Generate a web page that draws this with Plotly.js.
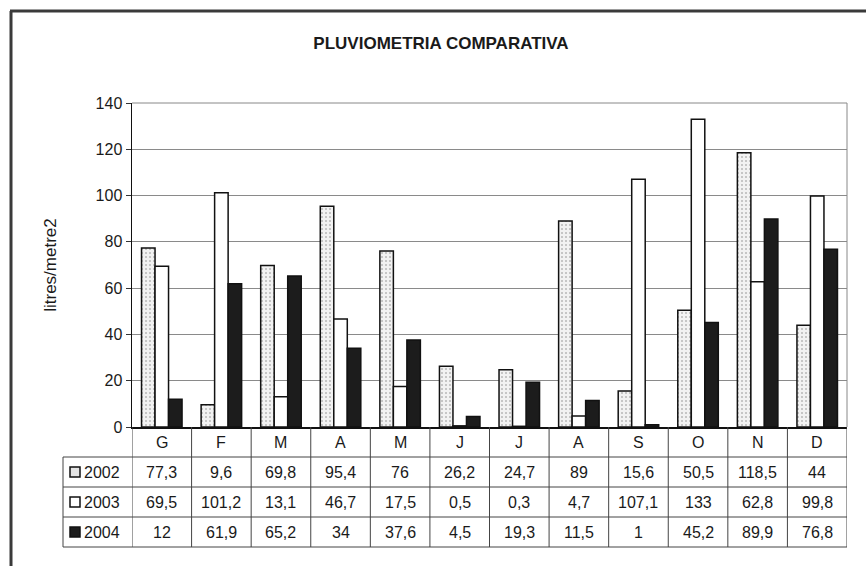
<!DOCTYPE html>
<html><head><meta charset="utf-8">
<script src="https://cdn.plot.ly/plotly-3.0.1.min.js"></script>
<style>html,body{margin:0;padding:0;background:#fff}#chart{width:866px;height:566px}</style>
</head><body><div id="chart"></div>
<script>
const months = ['G','F','M','A','M','J','J','A','S','O','N','D'];
const years = ['2002','2003','2004'];
const rain2002 = [77.3,9.6,69.8,95.4,76,26.2,24.7,89,15.6,50.5,118.5,44];
const rain2003 = [69.5,101.2,13.1,46.7,17.5,0.5,0.3,4.7,107.1,133,62.8,99.8];
const rain2004 = [12,61.9,65.2,34,37.6,4.5,19.3,11.5,1,45.2,89.9,76.8];
const yTicks = [0,20,40,60,80,100,120,140];

const W=866,H=566,L=132,R=847,T=103,B=427;
const pw=R-L, ph=B-T;
const px = x => (x-L)/pw;
const py = y => (B-y)/ph;
const FONT = '"Liberation Sans", Arial, sans-serif';
const TXT = '#1a1a1a';
const idx = months.map((m,i)=>i);
const fmt = v => String(v).replace('.', ',');

const series = [rain2002, rain2003, rain2004];
const fills = ['#ececec','#ffffff','#1c1c1c'];

const traces = series.map((vals,k)=>({
  type:'bar', x: idx, y: vals, name: years[k],
  marker: Object.assign({color: fills[k], line:{color:'#111', width:1.5}},
    k===0 ? {pattern:{shape:'.', fgcolor:'#b8b8b8', bgcolor:'#f2f2f2', size:4, solidity:0.2}} : {}),
  hoverinfo:'skip'
}));

const shapes = [];
const annotations = [];
const lineC = '#444';
// outer chart frame
shapes.push({type:'line', xref:'paper', yref:'paper', x0:px(10), x1:px(880), y0:py(11), y1:py(11), line:{color:'#3a3a3a', width:3}});
shapes.push({type:'line', xref:'paper', yref:'paper', x0:px(11), x1:px(11), y0:py(11), y1:py(580), line:{color:'#3a3a3a', width:3}});
// plot area frame (top/right)
shapes.push({type:'line', xref:'paper', yref:'paper', x0:0, x1:1, y0:1, y1:1, line:{color:'#888', width:1}});
shapes.push({type:'line', xref:'paper', yref:'paper', x0:1, x1:1, y0:0, y1:1, line:{color:'#888', width:1}});
// table horizontal lines
const rowLines = [457,487,517,547];
rowLines.forEach(y=>shapes.push({type:'line', xref:'paper', yref:'paper', x0:px(63), x1:1, y0:py(y), y1:py(y), line:{color:lineC, width:1}}));
// table vertical lines
shapes.push({type:'line', xref:'paper', yref:'paper', x0:px(63), x1:px(63), y0:py(457), y1:py(547), line:{color:lineC, width:1}});
for(let i=0;i<=months.length;i++){
  shapes.push({type:'line', xref:'x', yref:'paper', x0:i-0.5, x1:i-0.5, y0:0, y1:py(547), line:{color:lineC, width:1}});
}
// month header
months.forEach((m,i)=>annotations.push({xref:'x', yref:'paper', x:i, y:py(442), text:m, showarrow:false, font:{family:FONT, size:16, color:TXT}, xanchor:'center', yanchor:'middle'}));
// values & legend keys
const rowCenters = [472,502,532];
series.forEach((vals,k)=>{
  vals.forEach((v,i)=>annotations.push({xref:'x', yref:'paper', x:i, y:py(rowCenters[k]), text:fmt(v), showarrow:false, font:{family:FONT, size:16, color:TXT}, xanchor:'center', yanchor:'middle'}));
  annotations.push({xref:'paper', yref:'paper', x:px(82), y:py(rowCenters[k]), text:years[k], showarrow:false, font:{family:FONT, size:16, color:TXT}, xanchor:'left', yanchor:'middle'});
  shapes.push({type:'rect', xref:'paper', yref:'paper', x0:px(70), x1:px(80), y0:py(rowCenters[k]-5), y1:py(rowCenters[k]+5), fillcolor: k===0?'#e4e4e4':fills[k], line:{color:'#111', width:1.5}});
});

const layout = {
  width:W, height:H, autosize:false,
  margin:{l:L, r:W-R, t:T, b:H-B, pad:0},
  paper_bgcolor:'#fff', plot_bgcolor:'#fff',
  showlegend:false,
  barmode:'group', bargap:0.32, bargroupgap:0,
  font:{family:FONT, color:TXT},
  title:{text:'PLUVIOMETRIA COMPARATIVA', font:{family:FONT, size:17, weight:'bold', color:TXT}, xref:'container', yref:'container', x:441/W, y:1-43/H, xanchor:'center', yanchor:'middle'},
  xaxis:{range:[-0.5,11.5], showticklabels:false, ticks:'', showgrid:false, zeroline:false, showline:true, linecolor:'#111', linewidth:1.5, fixedrange:true},
  yaxis:{range:[0,140], tickvals:yTicks, ticktext:yTicks.map(String), ticks:'outside', ticklen:5, tickcolor:'#333',
    tickfont:{family:FONT, size:16, color:TXT}, showgrid:true, gridcolor:'#8a8a8a', gridwidth:1, zeroline:false,
    showline:true, linecolor:'#111', linewidth:1.5,
    title:{text:'litres/metre2', font:{family:FONT, size:17, color:TXT}, standoff:34}, fixedrange:true},
  shapes, annotations
};
Plotly.newPlot('chart', traces, layout, {displayModeBar:false, staticPlot:true});
</script></body></html>
